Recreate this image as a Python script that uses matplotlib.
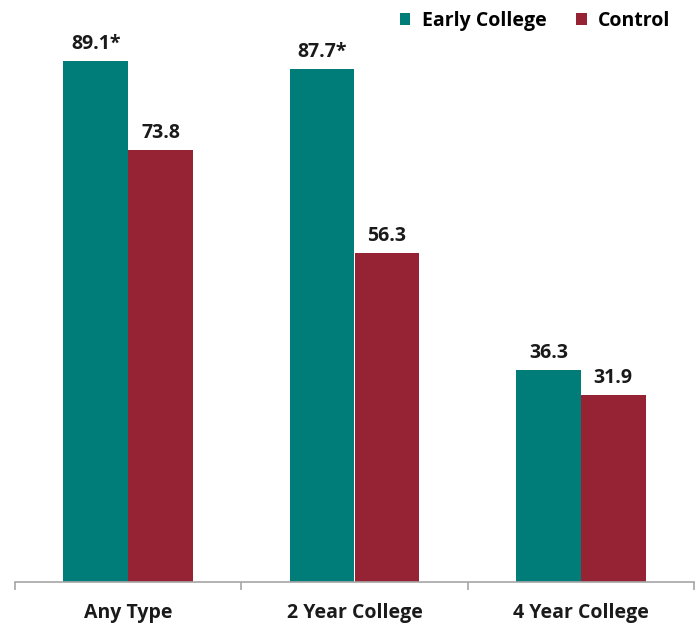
import matplotlib.pyplot as plt
import numpy as np

categories = ["Any Type", "2 Year College", "4 Year College"]
early_college = [89.1, 87.7, 36.3]
control = [73.8, 56.3, 31.9]
early_labels = ["89.1*", "87.7*", "36.3"]
control_labels = ["73.8", "56.3", "31.9"]

TEAL = "#007D78"
RED = "#962334"

plt.rcParams['font.family'] = ['Open Sans', 'DejaVu Sans']

fig = plt.figure(figsize=(7, 6.27), dpi=100)
# axes placed in pixel terms: left 15, right 694, bottom at y=582
ax = fig.add_axes([15 / 700, 45 / 627, 679 / 700, 582 / 627])

x = np.arange(len(categories))
w = 0.287
b1 = ax.bar(x - w / 2, early_college, w, color=TEAL, label="Early College")
b2 = ax.bar(x + w / 2, control, w, color=RED, label="Control")

for bars, labels in ((b1, early_labels), (b2, control_labels)):
    for rect, lab in zip(bars, labels):
        ax.annotate(lab, (rect.get_x() + rect.get_width() / 2, rect.get_height()),
                    xytext=(0, 5), textcoords="offset points", ha="center", va="bottom",
                    fontsize=14, fontweight="bold", color="#1a1a1a")

ax.set_xlim(-0.5, 2.5)
ax.set_ylim(0, 99.5)
ax.set_yticks([])
for s in ("top", "right", "left"):
    ax.spines[s].set_visible(False)
ax.spines["bottom"].set_color("#a6a6a6")
ax.spines["bottom"].set_linewidth(1.2)

# category boundary ticks
ax.set_xticks([-0.5, 0.5, 1.5, 2.5], minor=False)
ax.set_xticklabels([])
ax.tick_params(axis="x", which="major", length=6, color="#a6a6a6", width=1.2)
ax.set_xticks(x, minor=True)
ax.set_xticklabels(categories, minor=True, fontsize=14, fontweight="bold", color="#1a1a1a")
ax.tick_params(axis="x", which="minor", length=0, pad=15)

ax.legend(loc="upper right", bbox_to_anchor=(0.98, 0.998), ncol=2, frameon=False,
          prop={"size": 14, "weight": "bold"}, handlelength=0.55, handleheight=0.55,
          handletextpad=0.6, columnspacing=1.5, borderaxespad=0.1)

fig.savefig("out.png", dpi=100)
